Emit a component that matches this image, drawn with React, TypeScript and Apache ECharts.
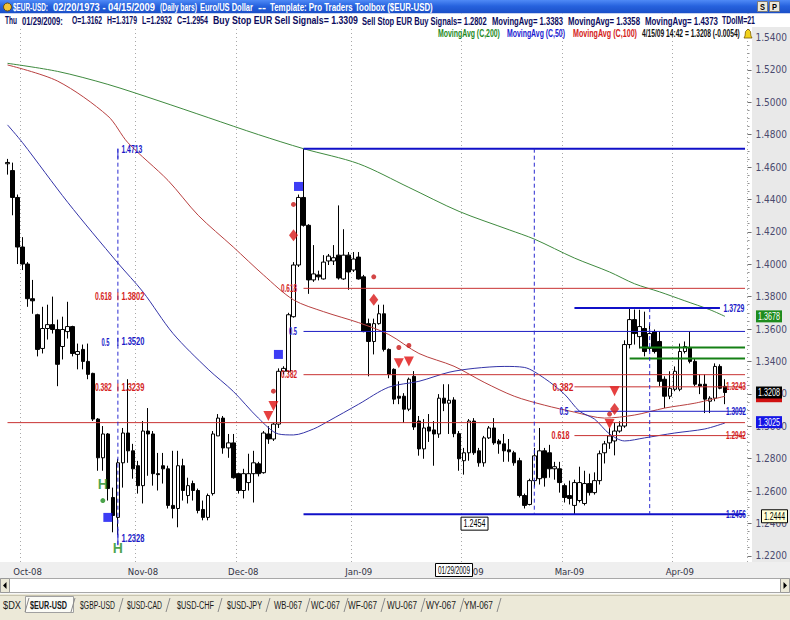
import React, { useEffect, useRef } from 'react';
import * as echarts from 'echarts';

// ---------------- data ----------------
const firstSession = '2008-09-26';
const lastSession = '2009-04-21'; // axis keeps 4 empty sessions after the last bar

// daily bars 2008-09-26 .. 2009-04-15 : [open, high, low, close]
const bars: number[][] = [
  [1.4620, 1.4650, 1.4553, 1.4628], [1.4578, 1.4627, 1.4302, 1.4412], [1.4412, 1.4430, 1.4001, 1.4106],
  [1.4106, 1.4167, 1.3964, 1.4001], [1.4001, 1.4013, 1.3737, 1.3787], [1.3787, 1.3903, 1.3694, 1.3774],
  [1.3688, 1.3694, 1.3431, 1.3474], [1.3480, 1.3737, 1.3449, 1.3603], [1.3603, 1.3750, 1.3535, 1.3627],
  [1.3627, 1.3800, 1.3572, 1.3597], [1.3597, 1.3658, 1.3247, 1.3382], [1.3492, 1.3676, 1.3412, 1.3597],
  [1.3584, 1.3768, 1.3541, 1.3615], [1.3615, 1.3620, 1.3431, 1.3449], [1.3443, 1.3510, 1.3351, 1.3461],
  [1.3474, 1.3504, 1.3351, 1.3400], [1.3400, 1.3510, 1.3290, 1.3320], [1.3326, 1.3330, 1.3032, 1.3044],
  [1.3044, 1.3050, 1.2725, 1.2805], [1.2805, 1.3001, 1.2725, 1.2952], [1.2952, 1.2958, 1.2541, 1.2615],
  [1.2560, 1.2621, 1.2345, 1.2449], [1.2437, 1.2799, 1.2328, 1.2774], [1.2774, 1.2989, 1.2621, 1.2958],
  [1.2958, 1.3290, 1.2774, 1.2848], [1.2848, 1.2891, 1.2676, 1.2737], [1.2756, 1.2786, 1.2584, 1.2633],
  [1.2633, 1.3032, 1.2523, 1.2970], [1.2970, 1.3112, 1.2694, 1.2952], [1.2952, 1.2970, 1.2633, 1.2707],
  [1.2707, 1.2835, 1.2603, 1.2701], [1.2756, 1.2835, 1.2646, 1.2737], [1.2737, 1.2756, 1.2492, 1.2511],
  [1.2511, 1.2848, 1.2431, 1.2492], [1.2492, 1.2848, 1.2376, 1.2756], [1.2756, 1.2799, 1.2541, 1.2603],
  [1.2572, 1.2682, 1.2523, 1.2633], [1.2646, 1.2664, 1.2541, 1.2603], [1.2603, 1.2615, 1.2462, 1.2480],
  [1.2486, 1.2541, 1.2419, 1.2437], [1.2437, 1.2584, 1.2419, 1.2572], [1.2584, 1.2970, 1.2572, 1.2952],
  [1.2940, 1.3075, 1.2940, 1.3050], [1.3050, 1.3063, 1.2830, 1.2866], [1.2866, 1.2952, 1.2805, 1.2897],
  [1.2897, 1.2952, 1.2676, 1.2682], [1.2707, 1.2713, 1.2584, 1.2603], [1.2603, 1.2737, 1.2554, 1.2707],
  [1.2652, 1.2830, 1.2603, 1.2707], [1.2707, 1.2848, 1.2529, 1.2774], [1.2768, 1.2780, 1.2690, 1.2707],
  [1.2713, 1.2970, 1.2707, 1.2958], [1.2952, 1.3000, 1.2891, 1.2921], [1.2921, 1.3020, 1.2909, 1.3013],
  [1.3013, 1.3357, 1.2989, 1.3339], [1.3339, 1.3370, 1.3320, 1.3357], [1.3339, 1.3700, 1.3330, 1.3688],
  [1.3676, 1.4013, 1.3670, 1.3995], [1.3995, 1.4430, 1.3983, 1.4412], [1.4412, 1.4713, 1.4232, 1.4240],
  [1.4240, 1.4247, 1.3817, 1.3903], [1.3903, 1.4118, 1.3891, 1.3940], [1.3934, 1.3960, 1.3900, 1.3922],
  [1.3909, 1.4056, 1.3905, 1.4013], [1.4020, 1.4063, 1.3995, 1.4050], [1.4020, 1.4118, 1.3995, 1.4040],
  [1.4056, 1.4363, 1.3905, 1.3915], [1.3909, 1.4216, 1.3903, 1.4056], [1.4056, 1.4075, 1.3842, 1.3952],
  [1.3964, 1.4075, 1.3952, 1.4032], [1.4044, 1.4075, 1.3905, 1.3909], [1.3922, 1.3934, 1.3580, 1.3584],
  [1.3633, 1.3664, 1.3308, 1.3523], [1.3523, 1.3664, 1.3443, 1.3633], [1.3633, 1.3750, 1.3627, 1.3694],
  [1.3694, 1.3750, 1.3461, 1.3474], [1.3474, 1.3480, 1.3296, 1.3320], [1.3351, 1.3357, 1.3136, 1.3167],
  [1.3185, 1.3277, 1.3136, 1.3173], [1.3185, 1.3204, 1.3020, 1.3105], [1.3105, 1.3300, 1.3093, 1.3290],
  [1.3308, 1.3340, 1.2977, 1.2995], [1.3032, 1.3063, 1.2818, 1.2860], [1.2860, 1.3044, 1.2799, 1.2989],
  [1.2995, 1.3075, 1.2903, 1.2970], [1.2977, 1.3032, 1.2756, 1.2952], [1.2952, 1.3198, 1.2928, 1.3173],
  [1.3173, 1.3259, 1.3093, 1.3142], [1.3142, 1.3259, 1.2952, 1.3160], [1.3162, 1.3179, 1.2932, 1.2954],
  [1.2954, 1.2970, 1.2725, 1.2799], [1.2787, 1.2866, 1.2701, 1.2836], [1.2836, 1.3044, 1.2787, 1.3032],
  [1.3032, 1.3050, 1.2823, 1.2836], [1.2848, 1.2866, 1.2750, 1.2774], [1.2774, 1.2940, 1.2750, 1.2928],
  [1.2928, 1.3001, 1.2921, 1.2989], [1.2989, 1.3050, 1.2885, 1.2897], [1.2909, 1.2921, 1.2830, 1.2891],
  [1.2891, 1.2952, 1.2780, 1.2848], [1.2854, 1.2921, 1.2781, 1.2842], [1.2836, 1.2848, 1.2756, 1.2774],
  [1.2787, 1.2805, 1.2560, 1.2572], [1.2572, 1.2584, 1.2492, 1.2511], [1.2517, 1.2676, 1.2511, 1.2664],
  [1.2664, 1.2866, 1.2627, 1.2817], [1.2676, 1.2989, 1.2640, 1.2848], [1.2848, 1.2866, 1.2627, 1.2682],
  [1.2836, 1.2885, 1.2682, 1.2737], [1.2737, 1.2780, 1.2670, 1.2750], [1.2737, 1.2780, 1.2590, 1.2652],
  [1.2633, 1.2646, 1.2529, 1.2560], [1.2572, 1.2664, 1.2517, 1.2554], [1.2511, 1.2670, 1.2456, 1.2652],
  [1.2541, 1.2750, 1.2529, 1.2652], [1.2523, 1.2725, 1.2511, 1.2646], [1.2646, 1.2707, 1.2572, 1.2590],
  [1.2590, 1.2715, 1.2578, 1.2664], [1.2664, 1.2850, 1.2640, 1.2830], [1.2836, 1.2909, 1.2770, 1.2891],
  [1.2897, 1.2989, 1.2860, 1.2940], [1.2909, 1.3020, 1.2820, 1.2970], [1.2970, 1.3030, 1.2960, 1.3001],
  [1.3001, 1.3530, 1.2990, 1.3504], [1.3504, 1.3729, 1.3480, 1.3658], [1.3658, 1.3720, 1.3504, 1.3572],
  [1.3553, 1.3719, 1.3480, 1.3615], [1.3603, 1.3707, 1.3431, 1.3461], [1.3480, 1.3633, 1.3461, 1.3572],
  [1.3584, 1.3597, 1.3449, 1.3461], [1.3523, 1.3584, 1.3247, 1.3277], [1.3290, 1.3308, 1.3112, 1.3185],
  [1.3185, 1.3339, 1.3167, 1.3234], [1.3228, 1.3369, 1.3216, 1.3339], [1.3228, 1.3510, 1.3216, 1.3461],
  [1.3461, 1.3523, 1.3449, 1.3492], [1.3486, 1.3584, 1.3388, 1.3400], [1.3400, 1.3418, 1.3247, 1.3259],
  [1.3259, 1.3320, 1.3198, 1.3247], [1.3259, 1.3320, 1.3081, 1.3167], [1.3154, 1.3185, 1.3081, 1.3173],
  [1.3173, 1.3388, 1.3154, 1.3369], [1.3369, 1.3382, 1.3228, 1.3234], [1.3246, 1.3290, 1.3136, 1.3208],
];

// moving averages
const ma200: [string, number][] = [
  ['2008-09-26', 1.5240], ['2008-10-10', 1.5190], ['2008-10-24', 1.5110], ['2008-11-07', 1.5010],
  ['2008-11-21', 1.4905], ['2008-12-05', 1.4800], ['2008-12-18', 1.4713], ['2009-01-02', 1.4620],
  ['2009-01-16', 1.4474], ['2009-01-30', 1.4326], ['2009-02-13', 1.4212], ['2009-02-20', 1.4155],
  ['2009-03-04', 1.4038], ['2009-03-13', 1.3952], ['2009-03-20', 1.3879], ['2009-03-27', 1.3829],
  ['2009-04-03', 1.3774], ['2009-04-10', 1.3719], ['2009-04-15', 1.3678],
];
const ma100: [string, number][] = [
  ['2008-09-26', 1.5230], ['2008-10-10', 1.5130], ['2008-10-24', 1.4915], ['2008-10-30', 1.4750],
  ['2008-11-11', 1.4517], ['2008-11-19', 1.4302], ['2008-11-28', 1.4106], ['2008-12-08', 1.3934],
  ['2008-12-16', 1.3780], ['2008-12-24', 1.3707], ['2009-01-02', 1.3639], ['2009-01-12', 1.3566],
  ['2009-01-20', 1.3449], ['2009-01-29', 1.3370], ['2009-02-06', 1.3271], ['2009-02-16', 1.3185],
  ['2009-02-24', 1.3130], ['2009-03-04', 1.3087], ['2009-03-12', 1.3050], ['2009-03-20', 1.3069],
  ['2009-03-30', 1.3112], ['2009-04-07', 1.3142], ['2009-04-15', 1.3185],
];
const ma50: [string, number][] = [
  ['2008-09-26', 1.4860], ['2008-10-01', 1.4750], ['2008-10-14', 1.4382], ['2008-10-28', 1.4007],
  ['2008-11-04', 1.3829], ['2008-11-12', 1.3572], ['2008-11-21', 1.3351], ['2008-11-28', 1.3215],
  ['2008-12-05', 1.3050], ['2008-12-11', 1.2952], ['2008-12-16', 1.2946], ['2008-12-22', 1.2983],
  ['2008-12-25', 1.3032], ['2009-01-02', 1.3136], ['2009-01-12', 1.3241], ['2009-01-20', 1.3277],
  ['2009-01-28', 1.3333], ['2009-02-04', 1.3357], ['2009-02-12', 1.3369], ['2009-02-18', 1.3363],
  ['2009-02-24', 1.3296], ['2009-03-02', 1.3198], ['2009-03-05', 1.3093], ['2009-03-10', 1.3044],
  ['2009-03-13', 1.2952], ['2009-03-18', 1.2909], ['2009-03-24', 1.2928], ['2009-04-01', 1.2958],
  ['2009-04-09', 1.2983], ['2009-04-15', 1.3020],
];

const priceMin = 1.2;
const priceMax = 1.56;
const priceStep = 0.02;

// studies
const swingHigh = 1.4713, swingHighDate = '2008-12-18';
const octLow = 1.2328, octLowDate = '2008-10-28', octLineBottom = 1.2265;
const marLow = 1.2456, marLowDate = '2009-03-04';
const marHigh = 1.3729, marHighEndDate = '2009-04-14';
const cycleDates = ['2009-02-20', '2009-03-25'];
const leftFib: [string, number][] = [['0.618', 1.3802], ['0.5', 1.3520], ['0.382', 1.3239]];
const midFib: [string, number][] = [['0.618', 1.3851], ['0.5', 1.3585], ['0.382', 1.3318]];
const rightFib: [string, number][] = [['0.382', 1.3243], ['0.5', 1.3092], ['0.618', 1.2942]];
const greenLevels: [string, number][] = [['2009-03-23', 1.3486], ['2009-03-19', 1.3418]];
const stopLevel = 1.3022;

// signals
const blueSquares: [string, number][] = [['2008-10-24', 1.2437], ['2008-12-11', 1.3443], ['2008-12-17', 1.4480]];
const redDots: [string, number][] = [['2008-12-10', 1.3216], ['2008-12-16', 1.4369], ['2009-01-07', 1.3922],
  ['2009-01-14', 1.3486], ['2009-01-16', 1.3498], ['2009-03-13', 1.3075]];
const redDiamonds: [string, number][] = [['2008-12-16', 1.4179], ['2009-01-07', 1.3780], ['2009-03-16', 1.3106]];
const redTriangles: [string, number][] = [['2008-12-09', 1.3063], ['2008-12-10', 1.3124], ['2009-01-14', 1.3388],
  ['2009-01-16', 1.3400], ['2009-03-16', 1.3216], ['2009-03-13', 1.3014]];
const greenH: [string, number][] = [['2008-10-23', 1.2646], ['2008-10-28', 1.2247]];
const greenDots: [string, number][] = [['2008-10-23', 1.2541]];

// right-axis tags
const tagMa200 = 1.3678, tagClose = 1.3208, tagMa100 = 1.3185, tagMa50 = 1.3025, tagLow = 1.2444;
const cursorDate = '2009-01-29', cursorPrice = 1.2454;

const titleParts: [string, number, number][] = [
  ['$EUR-USD:', 13, 48], ['02/20/1973 - 04/15/2009', 53, 155], ['(Daily bars)', 160, 197],
  ['Euro/US Dollar', 200, 253], ['--', 258, 266], ['Template: Pro Traders Toolbox ($EUR-USD)', 270, 433],
];
const infoParts: [string, number, number][] = [
  ['Thu', 5, 17], ['01/29/2009:', 22, 63], ['O=1.3162', 72, 102], ['H=1.3179', 107, 137],
  ['L=1.2932', 142, 172], ['C=1.2954', 177, 208], ['Buy Stop EUR Sell Signals= 1.3309', 213, 358],
  ['Sell Stop EUR Buy Signals= 1.2802', 362, 487], ['MovingAvg= 1.3383', 492, 563],
  ['MovingAvg= 1.3358', 568, 640], ['MovingAvg= 1.4373', 645, 718], ['TDoIM=21', 722, 755],
];
const legendParts: [string, number, number, string][] = [
  ['MovingAvg (C,200)', 438, 500, '#1e8a1e'], ['MovingAvg (C,50)', 507, 565, '#1a1ad0'],
  ['MovingAvg (C,100)', 573, 637, '#d42020'], ['4/15/09 14:42 = 1.3208 (-0.0054)', 642, 740, '#111111'],
];
const tabs: [string, number, number][] = [
  ['$DX', 3, 21], ['$EUR-USD', 30, 67], ['$GBP-USD', 80, 115], ['$USD-CAD', 127, 162], ['$USD-CHF', 177, 214],
  ['$USD-JPY', 227, 262], ['WB-067', 274, 302], ['WC-067', 311, 340], ['WF-067', 348, 377],
  ['WU-067', 387, 417], ['WY-067', 426, 456], ['YM-067', 464, 493],
];
const MONTHS = ['Jan', 'Feb', 'Mar', 'Apr', 'May', 'Jun', 'Jul', 'Aug', 'Sep', 'Oct', 'Nov', 'Dec'];

// ---------------- helpers ----------------
function weekdaysBetween(a: string, b: string): string[] {
  const out: string[] = [];
  const d = new Date(a + 'T00:00:00Z');
  const end = new Date(b + 'T00:00:00Z');
  while (d <= end) {
    const wd = d.getUTCDay();
    if (wd !== 0 && wd !== 6) out.push(d.toISOString().slice(0, 10));
    d.setUTCDate(d.getUTCDate() + 1);
  }
  return out;
}

let mctx: CanvasRenderingContext2D | null = null;
function textWidth(text: string, font: string): number {
  if (!mctx) mctx = document.createElement('canvas').getContext('2d');
  mctx!.font = font;
  return mctx!.measureText(text).width;
}
function fontAvailable(name: string): boolean {
  const s = 'mmmmwwwlli1.5400 Oct-08';
  return Math.abs(textWidth(s, '20px monospace') - textWidth(s, `20px "${name}", monospace`)) > 0.5;
}

const FAM = 'Liberation Sans';
function fitText(text: string, left: number, width: number, cy: number, size: number, color: string, weight: string, z: number): any {
  const w = textWidth(text, `${weight} ${size}px "${FAM}"`) || 1;
  return {
    type: 'text', z, x: left, y: cy, scaleX: width / w, scaleY: 1, silent: true,
    style: { text, fill: color, fontSize: size, fontWeight: weight, fontFamily: FAM,
      align: 'left', verticalAlign: 'middle', textAlign: 'left', textVerticalAlign: 'middle' },
  };
}
function rectEl(x: number, y: number, w: number, h: number, fill: any, z: number, stroke?: string): any {
  return { type: 'rect', z, silent: true, shape: { x, y, width: w, height: h },
    style: { fill, stroke: stroke || 'none', lineWidth: 1 } };
}
function lineEl(x1: number, y1: number, x2: number, y2: number, stroke: string, z: number, lw = 1): any {
  return { type: 'line', z, silent: true, shape: { x1, y1, x2, y2 }, style: { stroke, lineWidth: lw } };
}

const RED = '#c83232';
const BLUE = '#1c1cc4';
const LBL_RED = '#d41e1e';
const LBL_BLUE = '#1a1ac8';
const LBL_SIZE = 10.5;

export default function App() {
  const ref = useRef<HTMLDivElement>(null);
  useEffect(() => {
    const el = ref.current!;
    const chart = echarts.init(el, null, { renderer: 'svg' });

    const narrow = fontAvailable('Liberation Sans Narrow') ? 'Liberation Sans Narrow'
      : fontAvailable('DejaVu Sans Condensed') ? 'DejaVu Sans Condensed' : 'Liberation Sans';
    const isNarrow = narrow !== 'Liberation Sans';

    const categories = weekdaysBetween(firstSession, lastSession);
    const monthStart = new Set<string>();
    const labelAt = new Set<string>();
    categories.forEach((d, i) => {
      if (i > 0 && d.slice(5, 7) !== categories[i - 1].slice(5, 7)) {
        monthStart.add(d);
        if (categories[i + 1]) labelAt.add(categories[i + 1]);
      }
    });

    const lastCat = categories[categories.length - 1];

    const lineSeries = (data: any[], color: string, width: number, type: any = 'solid', z = 3, smooth: any = false) => ({
      type: 'line', data, symbol: 'none', showSymbol: false, smooth, silent: true,
      lineStyle: { color, width, type }, z, xAxisIndex: 0, yAxisIndex: 0,
    });

    const series: any[] = [
      {
        type: 'candlestick', name: '$EUR-USD',
        data: bars.map(([o, h, l, c]) => [o, c, l, h]),
        barWidth: 4,
        itemStyle: { color: '#ffffff', color0: '#000000', borderColor: '#000000', borderColor0: '#000000', borderWidth: 1 },
        z: 2, silent: true,
      },
      lineSeries(ma200, '#3f8a3f', 1, 'solid', 3, 0.3),
      lineSeries(ma100, '#b84040', 1, 'solid', 3, 0.3),
      lineSeries(ma50, '#3434a8', 1, 'solid', 3, 0.3),
      lineSeries([[swingHighDate, swingHigh], [lastCat, swingHigh]], '#1010c8', 2),
      lineSeries([[swingHighDate, marLow], [lastCat, marLow]], '#1010c8', 2),
      ...midFib.map(([r, p]) => lineSeries([[swingHighDate, p], [lastCat, p]], r === '0.5' ? BLUE : RED, 1)),
      lineSeries([[categories[0], stopLevel], [lastCat, stopLevel]], RED, 1),
      lineSeries([[marLowDate, marHigh], [marHighEndDate, marHigh]], '#1010c8', 2),
      ...rightFib.map(([r, p]) => lineSeries([[marLowDate, p], [lastCat, p]], r === '0.5' ? BLUE : RED, 1)),
      ...greenLevels.map(([d, p]) => lineSeries([[d, p], [lastCat, p]], '#158015', 2)),
      lineSeries([[octLowDate, swingHigh], [octLowDate, octLineBottom]], '#2a2ad0', 1, [4, 3]),
      lineSeries([[cycleDates[0], swingHigh], [cycleDates[0], marLow]], '#2a2ad0', 1, [4, 3]),
      lineSeries([[cycleDates[1], marHigh], [cycleDates[1], marLow]], '#2a2ad0', 1, [4, 3]),
      { type: 'scatter', data: blueSquares, symbol: 'rect', symbolSize: 9, itemStyle: { color: '#0c0cf2' }, z: 5, silent: true },
      { type: 'scatter', data: redDots, symbol: 'circle', symbolSize: 5, itemStyle: { color: '#c81818' }, z: 5, silent: true },
      { type: 'scatter', data: redDiamonds, symbol: 'diamond', symbolSize: [9, 12], itemStyle: { color: '#d81818' }, z: 5, silent: true },
      { type: 'scatter', data: redTriangles, symbol: 'triangle', symbolRotate: 180, symbolSize: [10, 10], itemStyle: { color: '#e01010' }, z: 5, silent: true },
      { type: 'scatter', data: greenDots, symbol: 'circle', symbolSize: 5, itemStyle: { color: '#1e8c1e' }, z: 5, silent: true },
      {
        type: 'scatter', data: greenH, symbol: 'circle', symbolSize: 1, itemStyle: { color: 'rgba(0,0,0,0)' }, z: 5, silent: true,
        label: { show: true, formatter: 'H', position: 'inside', color: '#1e8c1e', fontSize: 14, fontWeight: 'bold', fontFamily: FAM },
      },
    ];

    const axisFont = isNarrow ? 9.5 : 8.5;

    const option: any = {
      animation: false,
      backgroundColor: '#ffffff',
      grid: { left: 5, right: 38, top: 1.4, bottom: 31.8, containLabel: false },
      xAxis: [
        {
          type: 'category', data: categories, boundaryGap: true, gridIndex: 0,
          axisLine: { show: false }, axisTick: { show: false }, axisLabel: { show: false },
          splitLine: { show: true, interval: (_i: number, v: string) => monthStart.has(v), lineStyle: { color: '#a8a8a8', width: 1, type: [1, 3] } },
        },
        {
          type: 'category', data: categories, boundaryGap: true, gridIndex: 0, position: 'bottom', offset: -26.2, z: 20,
          axisLine: { show: false }, axisTick: { show: false }, splitLine: { show: false },
          axisLabel: {
            show: true, interval: (_i: number, v: string) => labelAt.has(v), margin: 4,
            formatter: (v: string) => MONTHS[Number(v.slice(5, 7)) - 1] + '-' + v.slice(2, 4),
            color: '#333344', fontSize: axisFont, fontFamily: narrow,
          },
        },
      ],
      yAxis: {
        type: 'value', position: 'right', min: priceMin, max: priceMax, interval: priceStep,
        axisLine: { show: false },
        axisTick: { show: true, length: 4, lineStyle: { color: '#707070' } },
        minorTick: { show: true, splitNumber: 4, length: 2, lineStyle: { color: '#909090' } },
        splitLine: { show: false },
        axisLabel: { formatter: (v: number) => v.toFixed(4), color: '#4a4a6e', fontSize: axisFont + 0.5, fontFamily: narrow, margin: 8 },
      },
      series,
    };
    chart.setOption(option);

    const X = (d: string) => chart.convertToPixel({ xAxisIndex: 0 }, d) as number;
    const Y = (v: number) => chart.convertToPixel({ yAxisIndex: 0 }, v) as number;

    const g: any[] = [];
    g.push(rectEl(752, 27, 38, 535, '#e9e9e9', -1));
    g.push(rectEl(0, 562, 790, 16, '#efefef', 10));

    // header
    g.push(rectEl(0, 0, 790, 13.5, new echarts.graphic.LinearGradient(0, 0, 0, 1, [
      { offset: 0, color: '#4f8af6' }, { offset: 0.45, color: '#2662de' }, { offset: 1, color: '#1a4ec6' },
    ]), 50));
    g.push({ type: 'circle', z: 51, silent: true, shape: { cx: 7.5, cy: 7, r: 4 }, style: { fill: '#f2c43a', stroke: '#6b4f10', lineWidth: 1 } });
    titleParts.forEach(([t, a, b]) => g.push(fitText(t, a, b - a, 7, 11, '#ffffff', 'bold', 52)));
    g.push(rectEl(757.5, 1.5, 10, 10, '#ece9d8', 51, '#7a7a7a'));
    g.push(rectEl(769.5, 1.5, 10, 10, '#ece9d8', 51, '#7a7a7a'));
    g.push(fitText('S', 760, 5, 7, 9, '#000', 'bold', 52));
    g.push(fitText('P', 772, 5, 7, 9, '#000', 'bold', 52));
    g.push(rectEl(0, 13.5, 790, 13.5, '#ffffff', 50));
    infoParts.forEach(([t, a, b]) => g.push(fitText(t, a, b - a, 20.5, 11, '#0c0c5e', 'bold', 52)));

    // legend row
    legendParts.forEach(([t, a, b, c]) => g.push(fitText(t, a, b - a, 33.5, 10, c, 'bold', 52)));
    g.push({ type: 'polygon', z: 52, silent: true, shape: { points: [[744, 38], [752, 38], [751, 36], [750.5, 31.5], [748, 29], [745.5, 31.5], [745, 36]] },
      style: { fill: '#f2d21b', stroke: '#7a5a00', lineWidth: 0.8 } });

    // study labels
    const xo = X(octLowDate);
    g.push(fitText('1.4713', xo + 3.5, 21, Y(swingHigh) + 1, LBL_SIZE, LBL_BLUE, 'bold', 40));
    g.push(fitText('1.2328', xo + 3.5, 23, Y(octLow) + 3, LBL_SIZE, LBL_BLUE, 'bold', 40));
    g.push(lineEl(xo, Y(swingHigh), xo, Y(swingHigh) + 10, '#2a2ad0', 39, 1));
    g.push(lineEl(xo, Y(octLow) - 6, xo, Y(octLineBottom), '#2a2ad0', 39, 1));
    leftFib.forEach(([r, p]) => {
      const c = r === '0.5' ? LBL_BLUE : LBL_RED;
      const w = r === '0.5' ? 8 : 17;
      g.push(fitText(r, xo - (r === '0.5' ? 8.5 : 6) - w, w, Y(p), LBL_SIZE, c, 'bold', 40));
      g.push(fitText(p.toFixed(4), xo + 3.5, 23, Y(p), LBL_SIZE, c, 'bold', 40));
      g.push(lineEl(xo, Y(p) - 4, xo, Y(p) + 4, c, 39, 1));
    });
    const xh = X(swingHighDate);
    midFib.forEach(([r, p]) => {
      const c = r === '0.5' ? LBL_BLUE : LBL_RED;
      const w = r === '0.5' ? 8 : 16;
      g.push(fitText(r, xh - 6.5 - w, w, Y(p), LBL_SIZE, c, 'bold', 40));
    });
    const xm = X(marLowDate);
    rightFib.forEach(([r, p]) => {
      const c = r === '0.5' ? LBL_BLUE : LBL_RED;
      const w = r === '0.5' ? 9 : r === '0.382' ? 21 : 18;
      const gap = r === '0.5' ? 6 : r === '0.382' ? 1 : 5;
      g.push(fitText(r, xm - gap - w, w, Y(p), LBL_SIZE, c, 'bold', 40));
    });
    const xe = X(lastCat);
    rightFib.forEach(([r, p]) => {
      const c = r === '0.5' ? LBL_BLUE : LBL_RED;
      g.push(fitText(p.toFixed(4), xe + 1 - 20, 20, Y(p), LBL_SIZE, c, 'bold', 40));
    });
    g.push(fitText(marLow.toFixed(4), xe + 1 - 20, 20, Y(marLow), LBL_SIZE, LBL_BLUE, 'bold', 40));
    g.push(fitText(marHigh.toFixed(4), X(marHighEndDate) + 3.5, 21, Y(marHigh), LBL_SIZE, LBL_BLUE, 'bold', 40));

    // right-axis value tags
    const tag = (v: number, fill: string, z: number, textColor = '#ffffff', withText = true) => {
      const y = Y(v);
      g.push(rectEl(756, y - 6, 26, 12, fill, z));
      if (withText) g.push(fitText(v.toFixed(4), 758, 22, y, 10, textColor, 'normal', z + 1));
    };
    tag(tagMa200, '#1e8c1e', 60);
    tag(tagMa100, '#d01010', 60, '#fff', false);
    tag(tagClose, '#000000', 62);
    tag(tagMa50, '#1414e6', 60);
    {
      const y = Y(tagLow);
      g.push(rectEl(761.5, y - 6.5, 26, 13, '#ffffd8', 60, '#000000'));
      g.push(fitText(tagLow.toFixed(4), 764, 21, y, 10, '#000', 'normal', 61));
    }

    // cursor boxes
    {
      const cx = X(cursorDate);
      g.push(rectEl(cx - 18.5, 563.5, 37, 13, '#ffffff', 30, '#000000'));
      g.push(fitText('01/29/2009', cx - 16, 32, 570, 10, '#000', 'normal', 31));
      const y = Y(cursorPrice);
      g.push(rectEl(cx + 7, y + 2.5, 27, 13, '#ffffff', 30, '#000000'));
      g.push(fitText(cursorPrice.toFixed(4), cx + 9.5, 22, y + 9, 10, '#000', 'normal', 31));
    }

    // scrollbar
    g.push(rectEl(0, 578, 790, 16, '#f7f7f7', 50));
    g.push(rectEl(0.5, 578.5, 789, 14, '#ffffff', 50, '#a8a8a8'));
    g.push(rectEl(0.5, 578.5, 9, 14, '#ece9d8', 51, '#9a9a9a'));
    g.push(rectEl(780.5, 578.5, 9, 14, '#ece9d8', 51, '#9a9a9a'));
    g.push({ type: 'polygon', z: 52, silent: true, shape: { points: [[6.5, 582], [6.5, 589], [3, 585.5]] }, style: { fill: '#000' } });
    g.push({ type: 'polygon', z: 52, silent: true, shape: { points: [[783.5, 582], [783.5, 589], [787, 585.5]] }, style: { fill: '#000' } });

    // tab strip
    g.push(rectEl(0, 594, 790, 26, '#ece9d8', 50));
    g.push(lineEl(0, 595.5, 790, 595.5, '#c8c4b0', 51));
    g.push(rectEl(25.5, 596.5, 48, 16, '#fbfbf6', 51, '#a0a0a0'));
    tabs.forEach(([t, a, b], i) => {
      g.push(fitText(t, a, b - a, 605.5, 10, '#1a1a1a', i === 1 ? 'bold' : 'normal', 52));
      g.push(lineEl(b + 4, 612, b + 8, 598, '#8a8a8a', 52));
    });

    chart.setOption({ graphic: { elements: g } });
    return () => chart.dispose();
  }, []);
  return <div ref={ref} style={{ position: 'fixed', left: 0, top: 0, width: 790, height: 620 }} />;
}
